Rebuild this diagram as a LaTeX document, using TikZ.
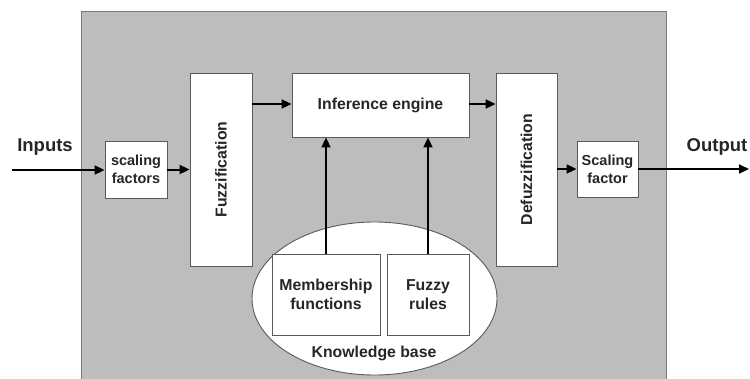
\documentclass[tikz,border=0pt]{standalone}
\usepackage{fontspec}
\setmainfont{Liberation Sans}
\usetikzlibrary{arrows.meta,shapes.geometric}
\definecolor{bg}{HTML}{BDBDBD}
\definecolor{edge}{HTML}{5A5A5A}
\tikzset{
  blk/.style={draw=edge,fill=white,line width=0.9pt,inner sep=0pt},
  lbl/.style={font=\fontsize{15.8}{19}\selectfont\bfseries,align=center,text=black!85},
  small/.style={font=\fontsize{14.5}{18}\selectfont\bfseries,align=center,text=black!85},
  big/.style={font=\fontsize{18.5}{22}\selectfont\bfseries,text=black!85},
  arr/.style={-{Triangle[length=10pt,width=9pt]},line width=2pt,black},
}
\begin{document}
\begin{tikzpicture}[x=1pt,y=-1pt]
\useasboundingbox (0,0) rectangle (750,378);
\node[draw=edge!80,fill=bg,line width=1pt,minimum width=585pt,minimum height=370pt,inner sep=0pt,anchor=north west] (panel) at (81,11) {};
\node[blk,minimum width=62pt,minimum height=57pt] (sf) at (136,169.5) {};
\node[small] (sft) at (sf) {scaling\\factors};
\node[blk,minimum width=62pt,minimum height=193pt] (fuz) at (221,169.5) {};
\node[lbl,rotate=90] (fuzt) at (fuz) {Fuzzification};
\node[blk,minimum width=177pt,minimum height=64pt] (inf) at (380.5,105) {};
\node[lbl] (inft) at (inf) {Inference engine};
\node[blk,minimum width=61pt,minimum height=193pt] (def) at (526.5,169.5) {};
\node[lbl,rotate=90] (deft) at (def) {Defuzzification};
\node[blk,minimum width=61pt,minimum height=56pt] (so) at (607.5,169) {};
\node[small] (sot) at (so) {Scaling\\factor};
\node[ellipse,draw=edge,fill=white,line width=0.9pt,minimum width=245pt,minimum height=153pt,inner sep=0pt] (kb) at (374.5,298.5) {};
\node[blk,minimum width=108pt,minimum height=81pt] (mem) at (326,294.5) {};
\node[lbl] (memt) at (mem) {Membership\\functions};
\node[blk,minimum width=82pt,minimum height=81pt] (fr) at (428,294.5) {};
\node[lbl] (frt) at (fr) {Fuzzy\\rules};
\node[lbl] (kbt) at (374,353) {Knowledge base};
\node[big] (inp) at (45,147) {Inputs};
\node[big] (outp) at (717,147) {Output};
\coordinate (in) at (12,170);
\coordinate (out) at (749,169);
\draw[arr] (in) -- (sf.west |- in);
\draw[arr] (sf.east) -- (fuz.west |- sf.east);
\draw[arr] (fuz.east |- 0,104) -- (inf.west |- 0,104);
\draw[arr] (inf.east |- 0,104) -- (def.west |- 0,104);
\draw[arr] (def.east |- so.west) -- (so.west);
\draw[arr] (so.east) -- (out);
\draw[arr] (mem.north) -- (mem.north |- inf.south);
\draw[arr] (fr.north) -- (fr.north |- inf.south);
\end{tikzpicture}
\end{document}
